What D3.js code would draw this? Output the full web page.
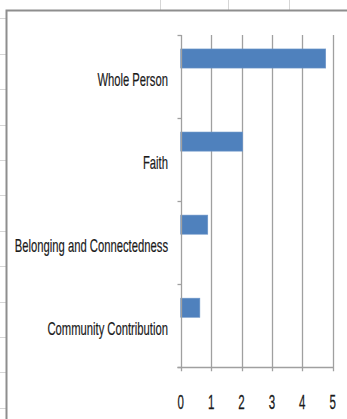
<!DOCTYPE html>
<html>
<head>
<meta charset="utf-8">
<script src="https://cdn.jsdelivr.net/npm/d3@7"></script>
<style>
  html, body { margin: 0; padding: 0; background: #fff; }
  svg { display: block; }
</style>
</head>
<body>
<svg id="chart" width="347" height="419"></svg>
<script>
// Categories, top to bottom, and their scores
const categories = ["Whole Person", "Faith", "Belonging and Connectedness", "Community Contribution"];
const scores = [4.77, 2.04, 0.89, 0.63];
const tickValues = [0, 1, 2, 3, 4, 5];

// Worksheet cell lines behind the embedded chart
const sheetRowLines = [18, 54, 89, 125, 160, 195, 231, 266, 302, 337, 372, 408];
const sheetColLines = [160, 228, 289];

const W = 347, H = 419;
const svg = d3.select("#chart");

// worksheet grid
const sheet = svg.append("g").attr("stroke", "#d6d6d6").attr("stroke-width", 1);
sheet.selectAll("line.r").data(sheetRowLines).join("line")
  .attr("x1", 0).attr("x2", 6).attr("y1", d => d + 0.5).attr("y2", d => d + 0.5);
sheet.selectAll("line.c").data(sheetColLines).join("line")
  .attr("x1", d => d + 0.5).attr("x2", d => d + 0.5).attr("y1", 0).attr("y2", 10);

// chart area
svg.append("rect").attr("x", 6).attr("y", 11).attr("width", W).attr("height", H)
  .attr("fill", "#fff");
svg.append("path").attr("d", `M6.5,${H} V10.5 H${W}`)
  .attr("fill", "none").attr("stroke", "#8e8e8e").attr("stroke-width", 2);

// plot geometry
const x = d3.scaleLinear().domain([0, 5]).range([180.7, 332.7]);
const y = d3.scaleBand().domain(categories).range([35, 367.3]);
const bw = y.bandwidth();

const grid = "#a0a0a0";

// vertical gridlines
svg.append("g").selectAll("line").data(tickValues.slice(1)).join("line")
  .attr("x1", d => Math.round(x(d)) + 0.5).attr("x2", d => Math.round(x(d)) + 0.5)
  .attr("y1", y.range()[0]).attr("y2", y.range()[1] + 4)
  .attr("stroke", grid).attr("stroke-width", 1.3);

// bars
svg.append("g").selectAll("rect").data(categories).join("rect")
  .attr("x", x(0))
  .attr("y", d => y(d) + bw * 0.168)
  .attr("width", (d, i) => x(scores[i]) - x(0))
  .attr("height", bw * 0.23)
  .attr("fill", "#4F81BD")
  .attr("stroke", "#6f97c9").attr("stroke-width", 0.6);

// category axis line and tick marks
const x0 = Math.round(x(0)) + 0.5;
svg.append("line").attr("x1", x0).attr("x2", x0)
  .attr("y1", y.range()[0]).attr("y2", y.range()[1] + 4)
  .attr("stroke", grid).attr("stroke-width", 1.3);
const catTicks = categories.map(c => y(c)).concat([y.range()[1]]);
svg.append("g").selectAll("line").data(catTicks).join("line")
  .attr("x1", x0 - 4).attr("x2", x0)
  .attr("y1", d => Math.round(d) + 0.5).attr("y2", d => Math.round(d) + 0.5)
  .attr("stroke", grid).attr("stroke-width", 1.3);

// value axis line
const yb = Math.round(y.range()[1]) + 0.5;
svg.append("line").attr("x1", x0 - 4).attr("x2", Math.round(x(5)) + 0.5)
  .attr("y1", yb).attr("y2", yb)
  .attr("stroke", grid).attr("stroke-width", 1.3);

// value tick labels
svg.append("g").selectAll("text").data(tickValues).join("text")
  .attr("transform", d => `translate(${x(d)},409) scale(0.55,1)`)
  .attr("text-anchor", "middle")
  .attr("font-family", "Liberation Sans, Arial, sans-serif")
  .attr("font-size", 21)
  .attr("fill", "#1a1a1a")
  .attr("stroke", "#1a1a1a").attr("stroke-width", 0.3)
  .text(d => d);

// category labels
svg.append("g").selectAll("text").data(categories).join("text")
  .attr("transform", d => `translate(168,${y(d) + bw / 2 + 9.5}) scale(0.625,1)`)
  .attr("text-anchor", "end")
  .attr("font-family", "Liberation Sans, Arial, sans-serif")
  .attr("font-size", 18)
  .attr("fill", "#1a1a1a")
  .attr("stroke", "#1a1a1a").attr("stroke-width", 0.2)
  .text(d => d);
</script>
</body>
</html>
